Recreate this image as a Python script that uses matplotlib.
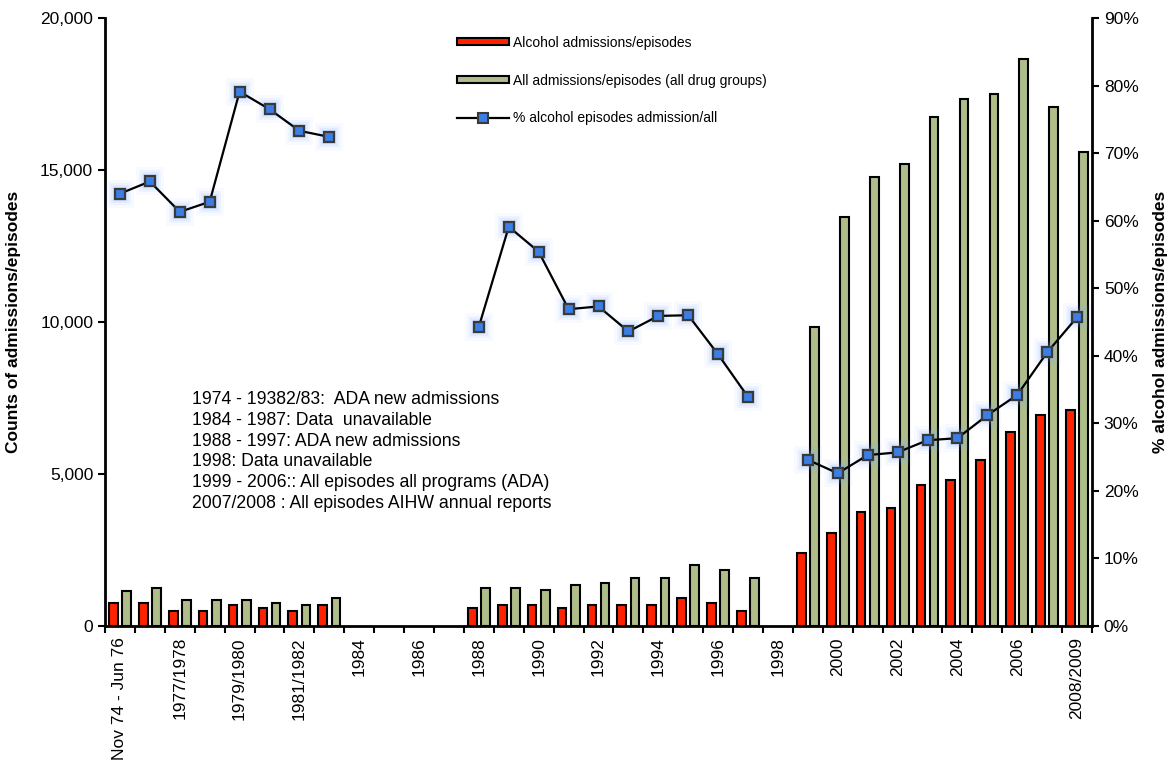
import numpy as np
import matplotlib.pyplot as plt
from matplotlib.patches import Patch
from matplotlib.lines import Line2D

plt.rcParams['font.family'] = ['Liberation Sans', 'DejaVu Sans']

# one category per reporting year
categories = [
    "Nov 74 - Jun 76", "1976/1977", "1977/1978", "1978/1979", "1979/1980",
    "1980/1981", "1981/1982", "1982/1983", "1984", "1985", "1986", "1987",
    "1988", "1989", "1990", "1991", "1992", "1993", "1994", "1995", "1996",
    "1997", "1998", "1999", "2000", "2001", "2002", "2003", "2004", "2005",
    "2006", "2007", "2008/2009",
]

# None = data unavailable
alcohol = [
    760, 750, 500, 500, 680, 600, 500, 680,
    None, None, None, None,
    600, 680, 680, 600, 680, 680, 680, 930, 770, 500,
    None,
    2400, 3070, 3740, 3890, 4640, 4800, 5460, 6370, 6940, 7100,
]
all_drugs = [
    1160, 1260, 840, 840, 840, 760, 690, 930,
    None, None, None, None,
    1260, 1260, 1180, 1350, 1420, 1590, 1590, 2000, 1840, 1590,
    None,
    9820, 13460, 14780, 15200, 16750, 17340, 17490, 18650, 17080, 15600,
]
pct_alcohol = [
    64.0, 65.8, 61.3, 62.8, 79.1, 76.5, 73.3, 72.4,
    None, None, None, None,
    44.3, 59.1, 55.4, 46.9, 47.3, 43.6, 45.9, 46.0, 40.2, 33.9,
    None,
    24.6, 22.6, 25.3, 25.7, 27.5, 27.8, 31.2, 34.2, 40.5, 45.7,
]

notes = [
    "1974 - 19382/83:  ADA new admissions",
    "1984 - 1987: Data  unavailable",
    "1988 - 1997: ADA new admissions",
    "1998: Data unavailable",
    "1999 - 2006:: All episodes all programs (ADA)",
    "2007/2008 : All episodes AIHW annual reports",
]

RED = "#ff2200"
GREEN = "#afbd8a"
BLUE = "#3b7fe6"

x = np.arange(len(categories))
to_arr = lambda v: np.array([np.nan if a is None else a for a in v], dtype=float)
alc = to_arr(alcohol)
tot = to_arr(all_drugs)
pct = to_arr(pct_alcohol)
has = ~np.isnan(alc)

fig = plt.figure(figsize=(11.74, 7.6), dpi=100)
ax = fig.add_axes([105 / 1174, 134 / 760, 987 / 1174, 608 / 760])

w = 0.29
ax.bar(x[has] - 0.22, alc[has], width=w, color=RED, edgecolor="black", linewidth=1.5, zorder=2)
ax.bar(x[has] + 0.22, tot[has], width=w, color=GREEN, edgecolor="black", linewidth=1.5, zorder=2)

ax.set_xlim(-0.5, len(categories) - 0.5)
ax.set_ylim(0, 20000)
ax.set_yticks([0, 5000, 10000, 15000, 20000])
ax.set_yticklabels(["0", "5,000", "10,000", "15,000", "20,000"], fontsize=12.5)
ax.set_xticks(np.append(x - 0.5, len(categories) - 0.5))
ax.set_xticklabels([])
ax.set_xticks(x[::2], minor=True)
ax.set_xticklabels(categories[::2], minor=True, rotation=90, fontsize=12.5)
ax.tick_params(axis="x", which="minor", length=0, pad=8)
ax.tick_params(axis="x", which="major", length=5, width=1.5, direction="out")
ax.tick_params(axis="y", length=5, width=1.5, direction="out")
ax.set_ylabel("Counts of admissions/episodes", fontsize=12.5, fontweight="bold", labelpad=14)
for side in ("left", "bottom"):
    ax.spines[side].set_linewidth(2)
ax.spines["top"].set_visible(False)
ax.spines["right"].set_visible(False)

ax2 = ax.twinx()
ax2.set_ylim(0, 90)
ax2.set_yticks(np.arange(0, 91, 10))
ax2.set_yticklabels([f"{v}%" for v in range(0, 91, 10)], fontsize=12.5)
ax2.tick_params(axis="y", length=5, width=1.5, direction="out")
ax2.spines["right"].set_linewidth(2)
for side in ("top", "left", "bottom"):
    ax2.spines[side].set_visible(False)
ax2.set_ylabel("% alcohol admissions/episodes", fontsize=12.5, fontweight="bold", labelpad=10)

# soft glow under the markers
for ms, a in [(20, 0.05), (16, 0.08), (13, 0.12), (10, 0.18)]:
    ax2.plot(x, pct, linestyle="none", marker="s", markersize=ms, color="#7fb0ff",
             alpha=a, markeredgewidth=0, zorder=3)
ax2.plot(x, pct, color="black", linewidth=1.6, marker="s", markersize=7.5,
         markerfacecolor=BLUE, markeredgecolor="#3a3a3a", markeredgewidth=1.6, zorder=4)

ax.text(0.088, 0.387, "\n".join(notes), transform=ax.transAxes, fontsize=12.7,
        va="top", ha="left", linespacing=1.30)

handles = [
    Patch(facecolor=RED, edgecolor="black", linewidth=1.5),
    Patch(facecolor=GREEN, edgecolor="black", linewidth=1.5),
    Line2D([], [], color="black", linewidth=1.6, marker="s", markersize=7,
           markerfacecolor=BLUE, markeredgecolor="#3a3a3a", markeredgewidth=1.5),
]
labels = [
    "Alcohol admissions/episodes",
    "All admissions/episodes (all drug groups)",
    "% alcohol episodes admission/all",
]
ax2.legend(handles, labels, loc="upper left", bbox_to_anchor=(0.357, 0.971),
           frameon=False, fontsize=10, handlelength=3.7, handleheight=0.45,
           handletextpad=0.3, labelspacing=1.72, borderaxespad=0, borderpad=0)

fig.savefig("out.png", dpi=100)
